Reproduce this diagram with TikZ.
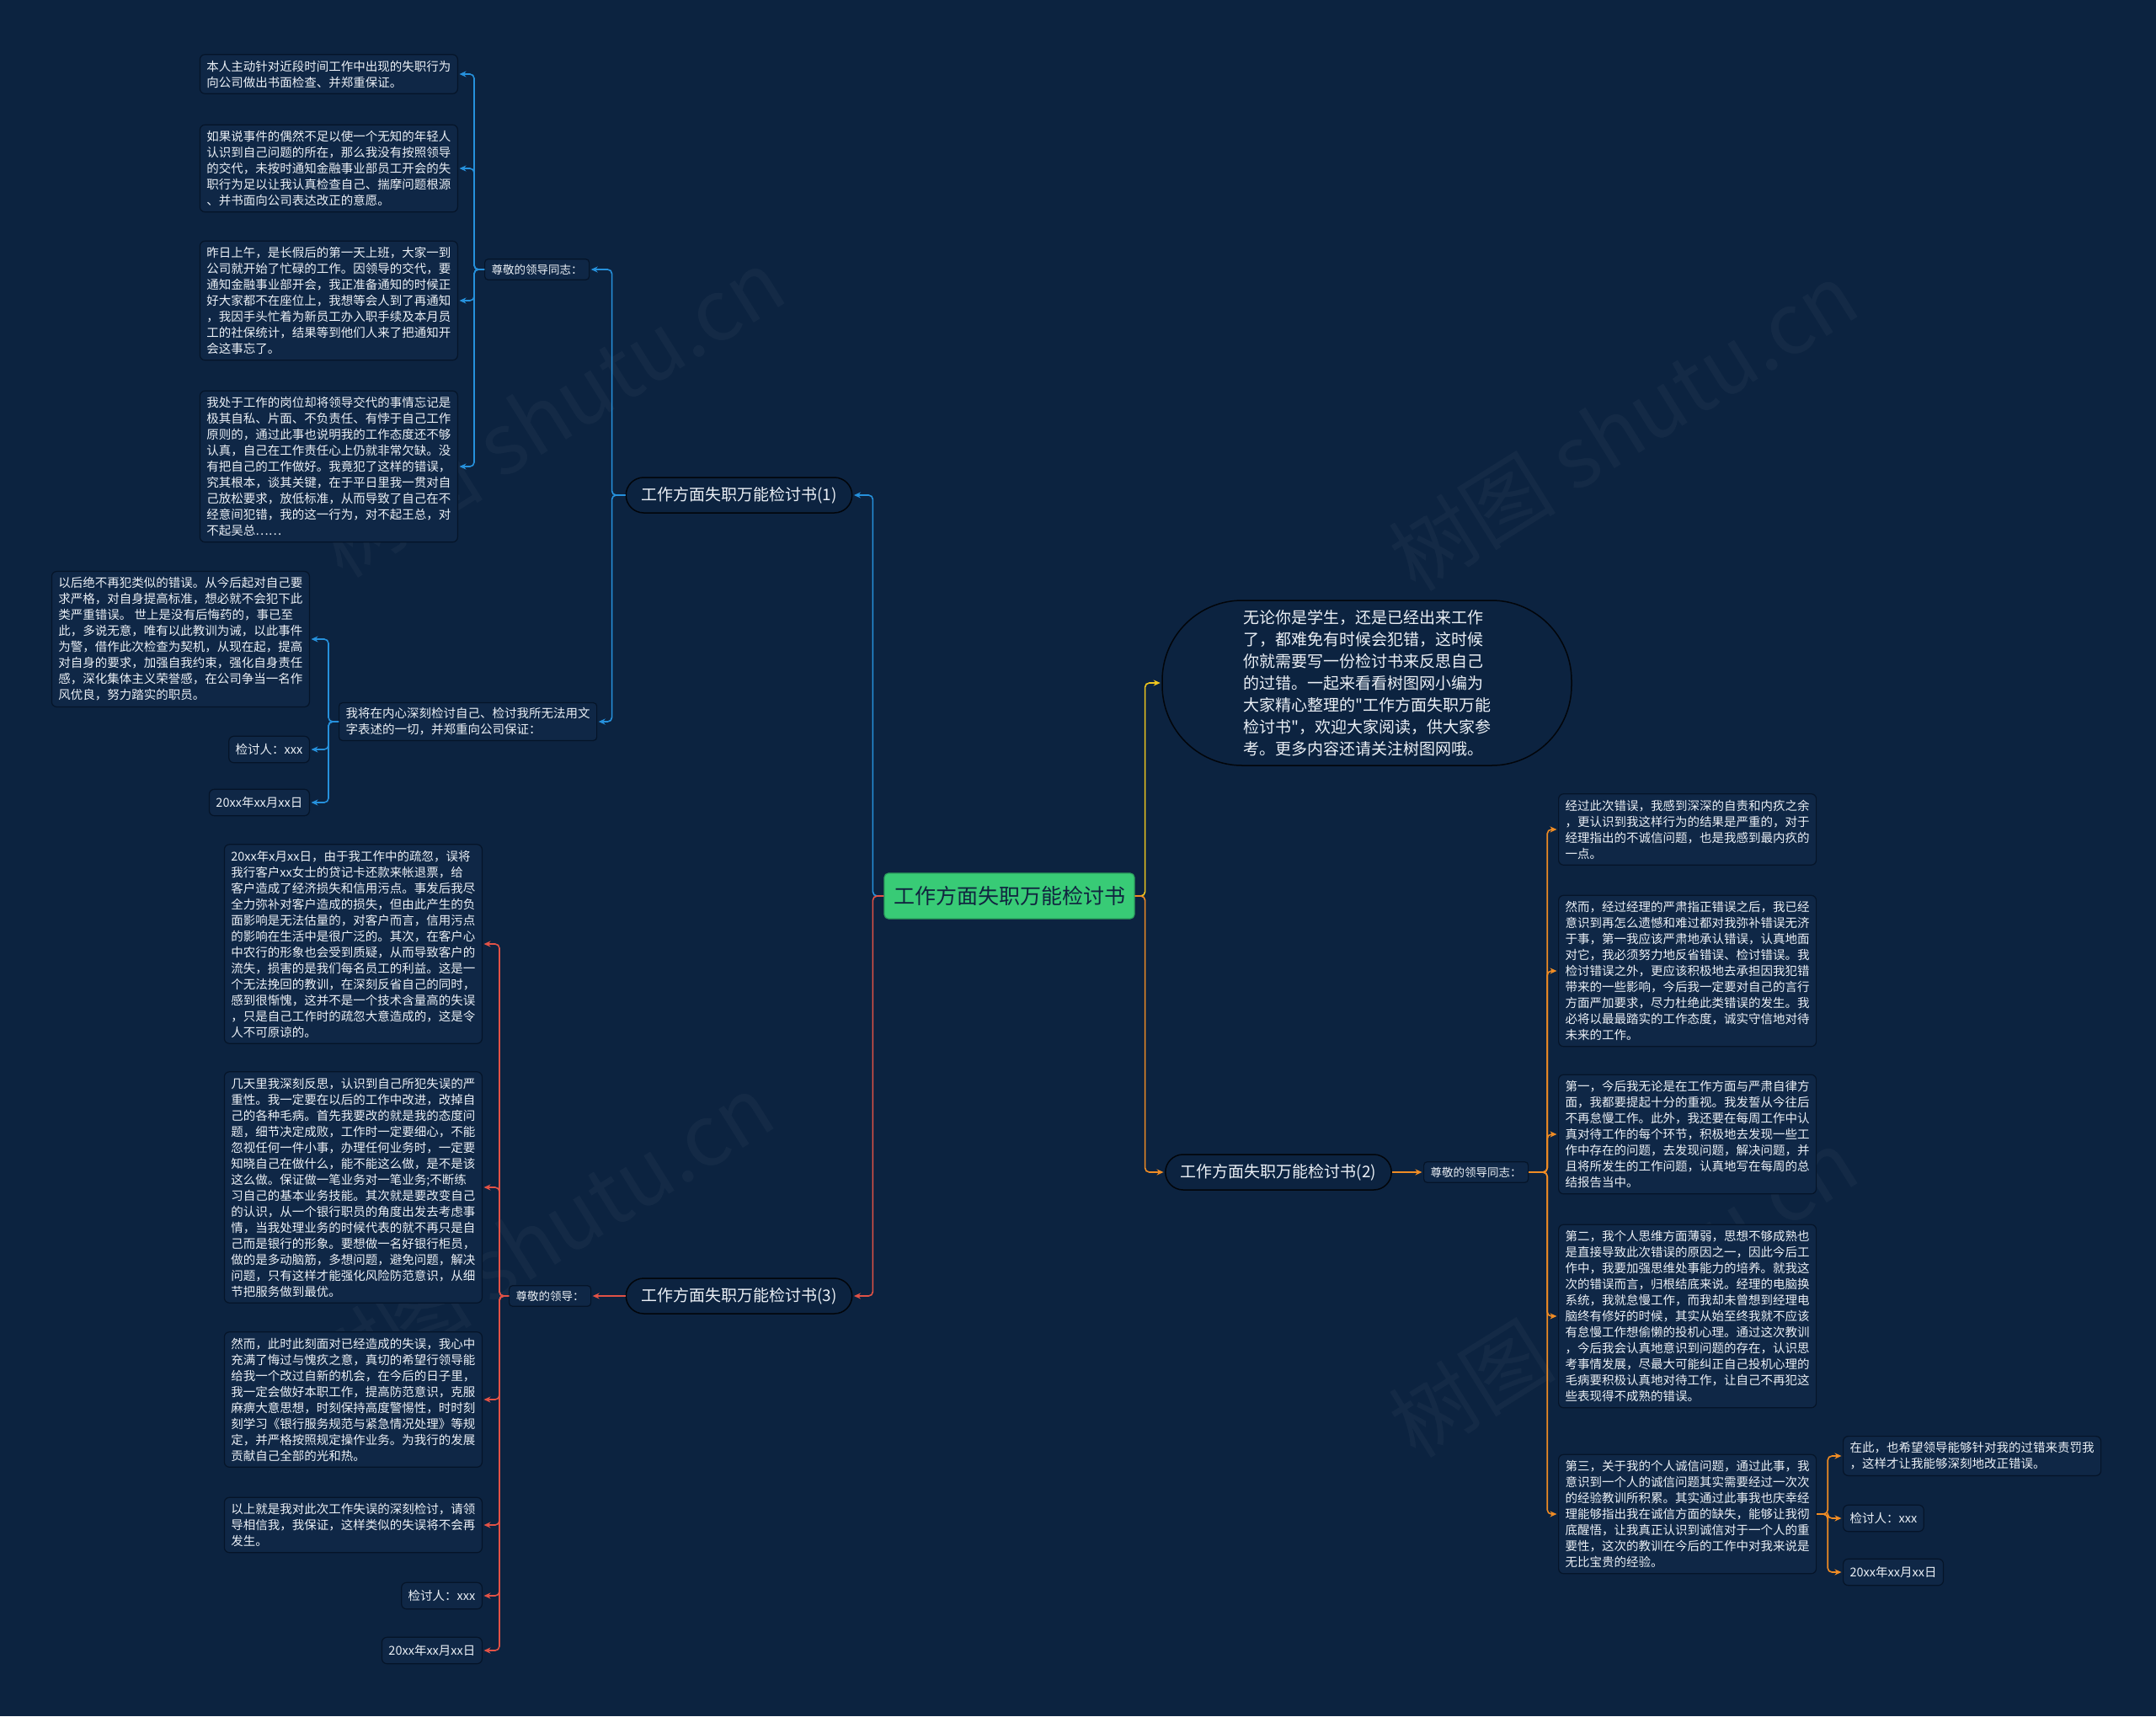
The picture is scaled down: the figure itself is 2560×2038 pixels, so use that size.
\documentclass[tikz,border=0pt]{standalone}
\usepackage{fontspec}
\newfontfamily\cjk{Noto Sans CJK SC}
\usetikzlibrary{arrows.meta}
\definecolor{bg}{RGB}{12,35,64}
\definecolor{blkfill}{RGB}{15,39,70}
\definecolor{blkborder}{RGB}{5,20,40}
\definecolor{txt}{RGB}{235,240,246}
\definecolor{cblue}{RGB}{38,145,220}
\definecolor{cred}{RGB}{226,82,70}
\definecolor{corange}{RGB}{240,140,36}
\definecolor{cyellow}{RGB}{240,198,30}
\definecolor{cgreen}{RGB}{56,203,118}
\definecolor{ctxt}{RGB}{16,36,63}
\tikzset{
  blk/.style={draw=blkborder, fill=blkfill, rounded corners=6, line width=1.2, align=left,
    inner xsep=8, inner ysep=7, text=txt, font=\cjk\fontsize{14.5}{19}\selectfont},
  small/.style={blk, inner ysep=9},
  lbl/.style={draw=blkborder, fill=blkfill, rounded corners=4, line width=1.2, inner xsep=8, inner ysep=6,
    text=txt, font=\cjk\fontsize{13.5}{17}\selectfont},
  branch/.style={draw=black!85!bg, fill=bg, rounded corners=21, line width=1.5, minimum height=42,
    inner xsep=18, text=txt, font=\cjk\fontsize{19}{23}\selectfont},
  conn/.style={line width=1.6, rounded corners=5, shorten >=1.5pt, -{Stealth[length=8pt,width=7pt]}},
  wm/.style={text=white, opacity=0.035, rotate=32, font=\cjk\fontsize{100}{110}\selectfont}
}
\begin{document}
\begin{tikzpicture}[x=1pt,y=-1pt]
\fill[bg] (0,0) rectangle (2560,2038);
\useasboundingbox (0,0) rectangle (2560,2038);

% watermarks
\node[wm] (wm1) at (653,490) {树图 shutu.cn};
\node[wm] (wm2) at (1927,506) {树图 shutu.cn};
\node[wm] (wm3) at (640,1470) {树图 shutu.cn};
\node[wm] (wm4) at (1927,1535) {树图 shutu.cn};

% center
\node[draw=cgreen!80!black, fill=cgreen, rounded corners=5, line width=1.2, minimum width=297, minimum height=54,
  text=ctxt, font=\cjk\fontsize{25}{30}\selectfont] (C) at (1198.5,1064) {工作方面失职万能检讨书};

% bubble
\node[draw=black!85!bg, fill=bg, rounded corners=95, line width=1.5, minimum width=486, minimum height=196,
  align=left, text=txt, font=\cjk\fontsize{19}{26}\selectfont] (bub) at (1623,811)
  {无论你是学生，还是已经出来工作\\了，都难免有时候会犯错，这时候\\你就需要写一份检讨书来反思自己\\的过错。一起来看看树图网小编为\\大家精心整理的"工作方面失职万能\\检讨书"，欢迎大家阅读，供大家参\\考。更多内容还请关注树图网哦。};

% branches
\node[branch] (B1) at (877.5,588) {工作方面失职万能检讨书(1)};
\node[branch] (B2) at (1518,1392) {工作方面失职万能检讨书(2)};
\node[branch] (B3) at (877.5,1539) {工作方面失职万能检讨书(3)};

% ---------- branch 1 ----------
\node[lbl, anchor=west] (L1) at (575,320) {尊敬的领导同志：};
\node[blk, anchor=east] (a1) at (544,88) {本人主动针对近段时间工作中出现的失职行为\\向公司做出书面检查、并郑重保证。};
\node[blk, anchor=east] (a2) at (544,200) {如果说事件的偶然不足以使一个无知的年轻人\\认识到自己问题的所在，那么我没有按照领导\\的交代，未按时通知金融事业部员工开会的失\\职行为足以让我认真检查自己、揣摩问题根源\\、并书面向公司表达改正的意愿。};
\node[blk, anchor=east] (a3) at (544,357) {昨日上午，是长假后的第一天上班，大家一到\\公司就开始了忙碌的工作。因领导的交代，要\\通知金融事业部开会，我正准备通知的时候正\\好大家都不在座位上，我想等会人到了再通知\\，我因手头忙着为新员工办入职手续及本月员\\工的社保统计，结果等到他们人来了把通知开\\会这事忘了。};
\node[blk, anchor=east] (a4) at (544,554) {我处于工作的岗位却将领导交代的事情忘记是\\极其自私、片面、不负责任、有悖于自己工作\\原则的，通过此事也说明我的工作态度还不够\\认真，自己在工作责任心上仍就非常欠缺。没\\有把自己的工作做好。我竟犯了这样的错误，\\究其根本，谈其关键，在于平日里我一贯对自\\己放松要求，放低标准，从而导致了自己在不\\经意间犯错，我的这一行为，对不起王总，对\\不起吴总……};
\node[lbl, anchor=west, align=left, font=\cjk\fontsize{14.5}{19}\selectfont] (W) at (402,857) {我将在内心深刻检讨自己、检讨我所无法用文\\字表述的一切，并郑重向公司保证：};
\node[blk, anchor=east] (w1) at (368,759) {以后绝不再犯类似的错误。从今后起对自己要\\求严格，对自身提高标准，想必就不会犯下此\\类严重错误。 世上是没有后悔药的，事已至\\此，多说无意，唯有以此教训为诫，以此事件\\为警，借作此次检查为契机，从现在起，提高\\对自身的要求，加强自我约束，强化自身责任\\感，深化集体主义荣誉感，在公司争当一名作\\风优良，努力踏实的职员。};
\node[small, anchor=east] (w2) at (368,890) {检讨人：xxx};
\node[small, anchor=east] (w3) at (368,953) {20xx年xx月xx日};

% ---------- branch 3 ----------
\node[lbl, anchor=west] (L3) at (604,1539) {尊敬的领导：};
\node[blk, anchor=east] (c1) at (573,1121) {20xx年x月xx日，由于我工作中的疏忽，误将\\我行客户xx女士的贷记卡还款来帐退票，给\\客户造成了经济损失和信用污点。事发后我尽\\全力弥补对客户造成的损失，但由此产生的负\\面影响是无法估量的，对客户而言，信用污点\\的影响在生活中是很广泛的。其次，在客户心\\中农行的形象也会受到质疑，从而导致客户的\\流失，损害的是我们每名员工的利益。这是一\\个无法挽回的教训，在深刻反省自己的同时，\\感到很惭愧，这并不是一个技术含量高的失误\\，只是自己工作时的疏忽大意造成的，这是令\\人不可原谅的。};
\node[blk, anchor=east] (c2) at (573,1410) {几天里我深刻反思，认识到自己所犯失误的严\\重性。我一定要在以后的工作中改进，改掉自\\己的各种毛病。首先我要改的就是我的态度问\\题，细节决定成败，工作时一定要细心，不能\\忽视任何一件小事，办理任何业务时，一定要\\知晓自己在做什么，能不能这么做，是不是该\\这么做。保证做一笔业务对一笔业务;不断练\\习自己的基本业务技能。其次就是要改变自己\\的认识，从一个银行职员的角度出发去考虑事\\情，当我处理业务的时候代表的就不再只是自\\己而是银行的形象。要想做一名好银行柜员，\\做的是多动脑筋，多想问题，避免问题，解决\\问题，只有这样才能强化风险防范意识，从细\\节把服务做到最优。};
\node[blk, anchor=east] (c3) at (573,1662) {然而，此时此刻面对已经造成的失误，我心中\\充满了悔过与愧疚之意，真切的希望行领导能\\给我一个改过自新的机会，在今后的日子里，\\我一定会做好本职工作，提高防范意识，克服\\麻痹大意思想，时刻保持高度警惕性，时时刻\\刻学习《银行服务规范与紧急情况处理》等规\\定，并严格按照规定操作业务。为我行的发展\\贡献自己全部的光和热。};
\node[blk, anchor=east] (c4) at (573,1811) {以上就是我对此次工作失误的深刻检讨，请领\\导相信我，我保证，这样类似的失误将不会再\\发生。};
\node[small, anchor=east] (c5) at (573,1895) {检讨人：xxx};
\node[small, anchor=east] (c6) at (573,1960) {20xx年xx月xx日};

% ---------- branch 2 ----------
\node[lbl, anchor=west] (L2) at (1690,1392) {尊敬的领导同志：};
\node[blk, anchor=west] (b1) at (1850,985) {经过此次错误，我感到深深的自责和内疚之余\\，更认识到我这样行为的结果是严重的，对于\\经理指出的不诚信问题，也是我感到最内疚的\\一点。};
\node[blk, anchor=west] (b2) at (1850,1153) {然而，经过经理的严肃指正错误之后，我已经\\意识到再怎么遗憾和难过都对我弥补错误无济\\于事，第一我应该严肃地承认错误，认真地面\\对它，我必须努力地反省错误、检讨错误。我\\检讨错误之外，更应该积极地去承担因我犯错\\带来的一些影响，今后我一定要对自己的言行\\方面严加要求，尽力杜绝此类错误的发生。我\\必将以最最踏实的工作态度，诚实守信地对待\\未来的工作。};
\node[blk, anchor=west] (b3) at (1850,1347) {第一，今后我无论是在工作方面与严肃自律方\\面，我都要提起十分的重视。我发誓从今往后\\不再怠慢工作。此外，我还要在每周工作中认\\真对待工作的每个环节，积极地去发现一些工\\作中存在的问题，去发现问题，解决问题，并\\且将所发生的工作问题，认真地写在每周的总\\结报告当中。};
\node[blk, anchor=west] (b4) at (1850,1563) {第二，我个人思维方面薄弱，思想不够成熟也\\是直接导致此次错误的原因之一，因此今后工\\作中，我要加强思维处事能力的培养。就我这\\次的错误而言，归根结底来说。经理的电脑换\\系统，我就怠慢工作，而我却未曾想到经理电\\脑终有修好的时候，其实从始至终我就不应该\\有怠慢工作想偷懒的投机心理。通过这次教训\\，今后我会认真地意识到问题的存在，认识思\\考事情发展，尽最大可能纠正自己投机心理的\\毛病要积极认真地对待工作，让自己不再犯这\\些表现得不成熟的错误。};
\node[blk, anchor=west] (b5) at (1850,1798) {第三，关于我的个人诚信问题，通过此事，我\\意识到一个人的诚信问题其实需要经过一次次\\的经验教训所积累。其实通过此事我也庆幸经\\理能够指出我在诚信方面的缺失，能够让我彻\\底醒悟，让我真正认识到诚信对于一个人的重\\要性，这次的教训在今后的工作中对我来说是\\无比宝贵的经验。};
\node[blk, anchor=west] (d1) at (2188,1729) {在此，也希望领导能够针对我的过错来责罚我\\，这样才让我能够深刻地改正错误。};
\node[small, anchor=west] (d2) at (2188,1803) {检讨人：xxx};
\node[small, anchor=west] (d3) at (2188,1867) {20xx年xx月xx日};

% ---------- connectors ----------
\draw[conn, cblue] (C.west) -- ++(-13,0) |- (B1.east);
\draw[conn, cred] (C.west) -- ++(-13,0) |- (B3.east);
\draw[conn, cyellow] (C.east) -- ++(12,0) |- (bub.west);
\draw[conn, corange] (C.east) -- ++(12,0) |- (B2.west);

\foreach \t in {L1,W} \draw[conn, cblue] (B1.west) -- ++(-16,0) |- (\t.east);
\foreach \t in {a1,a2,a3,a4} \draw[conn, cblue] (L1.west) -- ++(-12,0) |- (\t.east);
\foreach \t in {w1,w2,w3} \draw[conn, cblue] (W.west) -- ++(-12,0) |- (\t.east);

\draw[conn, cred] (B3.west) -- (L3.east);
\foreach \t in {c1,c2,c3,c4,c5,c6} \draw[conn, cred] (L3.west) -- ++(-11,0) |- (\t.east);

\draw[conn, corange] (B2.east) -- (L2.west);
\foreach \t in {b1,b2,b3,b4,b5} \draw[conn, corange] (L2.east) -- ++(22,0) |- (\t.west);
\foreach \t in {d1,d2,d3} \draw[conn, corange] (b5.east) -- ++(13,0) |- (\t.west);
\end{tikzpicture}
\end{document}
